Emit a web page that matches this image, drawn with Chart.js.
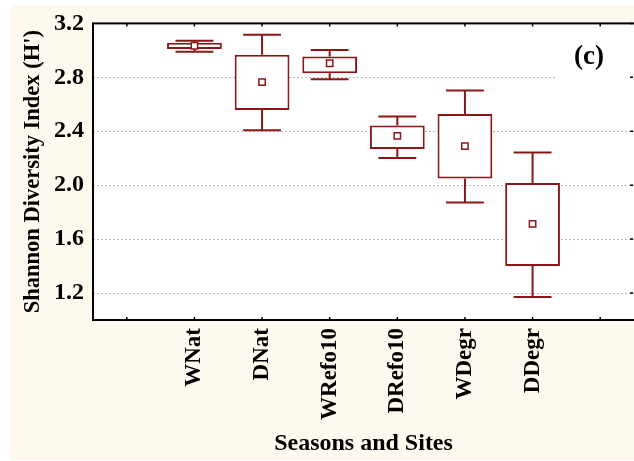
<!DOCTYPE html>
<html>
<head>
<meta charset="utf-8">
<script src="https://cdn.jsdelivr.net/npm/chart.js@4.4.1/dist/chart.umd.min.js"></script>
<style>
  html, body { margin: 0; padding: 0; background: #fff; overflow: hidden; }
</style>
</head>
<body>
<canvas id="myChart" width="634" height="461"></canvas>
<script>
  // categories (empty slots at both ends, like the original axis)
  const sites = ['', 'WNat', 'DNat', 'WRefo10', 'DRefo10', 'WDegr', 'DDegr', ''];
  // box plot values
  const whiskLow  = [null, 2.990, 2.408, 2.786, 2.201, 1.872, 1.170, null];
  const boxLow    = [null, 3.010, 2.557, 2.830, 2.268, 2.049, 1.400, null];
  const boxHigh   = [null, 3.056, 2.968, 2.955, 2.442, 2.528, 2.017, null];
  const whiskHigh = [null, 3.071, 3.115, 3.003, 2.509, 2.703, 2.243, null];
  const means     = [null, 3.034, 2.764, 2.904, 2.366, 2.290, 1.713, null];
  const yTicks = [1.2, 1.6, 2.0, 2.4, 2.8, 3.2];

  const red = '#8c1616';
  const serif = 'Liberation Serif';

  // фон, сітка, рамка і вуса
  const boxPlugin = {
    id: 'boxPlugin',
    beforeDraw(chart) {
      const ctx = chart.ctx;
      ctx.save();
      ctx.fillStyle = '#ffffff';
      ctx.fillRect(0, 0, chart.width, chart.height);
      ctx.fillStyle = '#fef9ee';
      ctx.fillRect(10, 5, chart.width - 10, 455);
      ctx.restore();
    },
    beforeDatasetsDraw(chart) {
      const ctx = chart.ctx;
      const a = chart.chartArea;
      const x = chart.scales.x;
      const y = chart.scales.y;
      ctx.save();
      ctx.fillStyle = '#ffffff';
      ctx.fillRect(a.left, a.top, a.right - a.left, a.bottom - a.top);

      // dotted grid
      ctx.strokeStyle = '#b8b8b8';
      ctx.lineWidth = 1;
      ctx.setLineDash([2, 2]);
      yTicks.forEach(v => {
        if (v >= 3.2) return;
        const py = Math.round(y.getPixelForValue(v)) + 0.5;
        ctx.beginPath();
        ctx.moveTo(a.left, py);
        ctx.lineTo(a.right, py);
        ctx.stroke();
      });
      ctx.setLineDash([]);

      // label (c) on a white patch
      ctx.fillStyle = '#ffffff';
      ctx.fillRect(555, 32, a.right - 555, 48);
      ctx.fillStyle = '#000';
      ctx.font = 'bold 27px ' + serif;
      ctx.textAlign = 'center';
      ctx.textBaseline = 'middle';
      ctx.fillText('(c)', 589, 57);

      // frame
      ctx.strokeStyle = '#000';
      ctx.lineWidth = 2;
      ctx.strokeRect(a.left, a.top, a.right - a.left + 4, a.bottom - a.top);

      // small inner ticks
      ctx.lineWidth = 1.5;
      ctx.beginPath();
      sites.forEach((s, i) => {
        const px = x.getPixelForValue(i);
        ctx.moveTo(px, a.top);
        ctx.lineTo(px, a.top + 3);
        ctx.moveTo(px, a.bottom);
        ctx.lineTo(px, a.bottom - 3);
      });
      yTicks.forEach(v => {
        const py = y.getPixelForValue(v);
        ctx.moveTo(a.right - 1, py);
        ctx.lineTo(a.right - 4, py);
      });
      ctx.stroke();

      // whiskers
      const catW = (a.right - a.left) / sites.length;
      ctx.strokeStyle = red;
      ctx.lineWidth = 2;
      ctx.beginPath();
      sites.forEach((s, i) => {
        if (whiskLow[i] == null) return;
        const px = x.getPixelForValue(i);
        const half = catW * 0.28;
        const yl = y.getPixelForValue(whiskLow[i]);
        const yh = y.getPixelForValue(whiskHigh[i]);
        ctx.moveTo(px, y.getPixelForValue(boxHigh[i]));
        ctx.lineTo(px, yh);
        ctx.moveTo(px - half, yh);
        ctx.lineTo(px + half, yh);
        ctx.moveTo(px, y.getPixelForValue(boxLow[i]));
        ctx.lineTo(px, yl);
        ctx.moveTo(px - half, yl);
        ctx.lineTo(px + half, yl);
      });
      ctx.stroke();
      ctx.restore();
    }
  };

  const ctx = document.getElementById('myChart').getContext('2d');

  const myChart = new Chart(ctx, {
    type: 'bar',
    data: {
      labels: sites,
      datasets: [{
        type: 'line',
        data: means,
        showLine: false,
        pointStyle: 'rect',
        pointRadius: 4.5,
        pointBorderWidth: 1.5,
        pointBorderColor: red,
        pointBackgroundColor: '#ffffff',
        order: 0
      }, {
        data: boxLow.map((v, i) => v == null ? null : [v, boxHigh[i]]),
        backgroundColor: '#ffffff',
        borderColor: red,
        borderWidth: 2,
        borderSkipped: false,
        barPercentage: 0.81,
        categoryPercentage: 1,
        order: 1
      }]
    },
    options: {
      responsive: false,
      animation: false,
      devicePixelRatio: 1,
      layout: { autoPadding: false, padding: { left: 0, top: 21, right: 0, bottom: 0 } },
      plugins: { legend: { display: false }, tooltip: { enabled: false } },
      scales: {
        x: {
          grid: { display: false, drawTicks: false },
          border: { display: false },
          ticks: {
            autoSkip: false,
            maxRotation: 90,
            minRotation: 90,
            padding: 8,
            color: '#000',
            font: { family: serif, weight: 'bold', size: 23 }
          },
          title: {
            display: true,
            text: 'Seasons and Sites',
            color: '#000',
            padding: { top: 0, bottom: 3 },
            font: { family: serif, weight: 'bold', size: 24 }
          },
          afterFit(scale) {
            scale.height = 141;
            scale.paddingLeft = 0;
            scale.paddingRight = 0;
          }
        },
        y: {
          min: 1.0,
          max: 3.2,
          grid: { display: false, drawTicks: false },
          border: { display: false },
          afterBuildTicks(scale) { scale.ticks = yTicks.map(v => ({ value: v })); },
          ticks: {
            padding: 9,
            color: '#000',
            font: { family: serif, weight: 'bold', size: 24 },
            callback: v => Number(v).toFixed(1)
          },
          title: {
            display: true,
            text: "Shannon Diversity Index (H')",
            color: '#000',
            padding: { top: 20, bottom: 0 },
            font: { family: serif, weight: 'bold', size: 22.5 }
          },
          afterFit(scale) { scale.width = 93; }
        }
      }
    },
    plugins: [boxPlugin]
  });
</script>
</body>
</html>
